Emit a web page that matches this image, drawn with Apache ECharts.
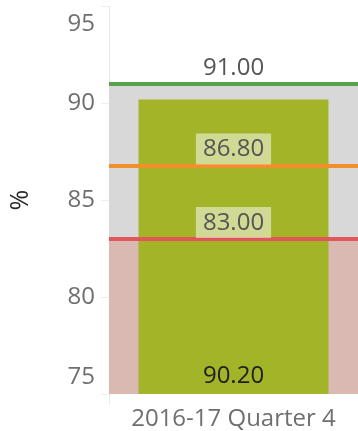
<!DOCTYPE html>
<html>
<head>
<meta charset="utf-8">
<script src="https://cdn.jsdelivr.net/npm/echarts@6/dist/echarts.min.js"></script>
<style>
  html, body { margin: 0; padding: 0; background: #fff; }
  #chart { width: 358px; height: 431px; }
</style>
</head>
<body>
<div id="chart"></div>
<script>
// Quarterly result against its reference thresholds
const categories = ['2016-17 Quarter 4'];
const actualValues = [90.20];
const targetValue = 91.00;
const midValue = 86.80;
const lowerValue = 83.00;
const axisMin = 75;
const axisMax = 95;
const axisStep = 5;

const FONT = '"Open Sans", sans-serif';
const labelGray = '#6f6f6f';

const chart = echarts.init(document.getElementById('chart'));

const thresholdLabel = (bg) => ({
  show: true,
  position: 'insideMiddleTop',
  distance: 1,
  formatter: (p) => p.value.toFixed(2),
  fontFamily: FONT,
  fontSize: 24,
  color: '#555555',
  backgroundColor: bg,
  padding: [4, 7, 3, 7]
});

chart.setOption({
  animation: false,
  grid: { left: 108, right: 0, top: 6.5, bottom: 37, containLabel: false },
  xAxis: {
    type: 'category',
    data: categories,
    boundaryGap: true,
    axisLine: { show: false },
    axisTick: { show: true, length: 10, lineStyle: { color: '#e8e8e8' } },
    axisLabel: { fontFamily: FONT, fontSize: 24, color: labelGray, margin: 13 }
  },
  yAxis: {
    type: 'value',
    min: axisMin,
    max: axisMax,
    interval: axisStep,
    name: '%',
    nameLocation: 'middle',
    nameGap: 76,
    nameRotate: 90,
    nameTextStyle: { fontFamily: FONT, fontSize: 25, color: '#2a2a2a' },
    axisLine: { show: true, lineStyle: { color: '#e8e8e8', width: 1 } },
    axisTick: { show: true, length: 8, lineStyle: { color: '#eeeeee' } },
    splitLine: { show: false },
    axisLabel: {
      margin: 14,
      fontFamily: FONT,
      fontSize: 24,
      color: labelGray,
      formatter: (v) => {
        if (v === axisMax) return '{top|' + v + '}';
        if (v === axisMin) return '{bot|' + v + '}';
        return String(v);
      },
      rich: {
        top: { fontFamily: FONT, fontSize: 24, color: labelGray, padding: [36, 0, 0, 0] },
        bot: { fontFamily: FONT, fontSize: 24, color: labelGray, padding: [0, 0, 34, 0] }
      }
    }
  },
  series: [
    {
      // shaded threshold bands behind the bar
      type: 'line',
      data: [],
      z: 1,
      silent: true,
      markArea: {
        silent: true,
        label: { show: false },
        data: [
          [{ yAxis: axisMin, itemStyle: { color: '#d9b9b1' } }, { yAxis: lowerValue }],
          [{ yAxis: lowerValue, itemStyle: { color: '#d8d8d8' } }, { yAxis: targetValue }]
        ]
      }
    },
    {
      type: 'bar',
      data: actualValues,
      z: 2,
      barWidth: 190,
      itemStyle: { color: '#a3b428' },
      label: {
        show: true,
        position: 'insideBottom',
        distance: 6,
        formatter: (p) => p.value.toFixed(2),
        fontFamily: FONT,
        fontSize: 24,
        color: '#1e1e1e'
      }
    },
    {
      // threshold reference lines
      type: 'line',
      data: [],
      z: 3,
      silent: true,
      markLine: {
        silent: true,
        symbol: 'none',
        data: [
          { yAxis: targetValue, lineStyle: { color: '#59a14f', width: 4, type: 'solid' }, label: thresholdLabel('transparent') },
          { yAxis: midValue, lineStyle: { color: '#f28e2b', width: 4, type: 'solid' }, label: thresholdLabel('rgba(255,255,255,0.5)') },
          { yAxis: lowerValue, lineStyle: { color: '#e15759', width: 4, type: 'solid' }, label: thresholdLabel('rgba(255,255,255,0.5)') }
        ]
      }
    }
  ]
});
</script>
</body>
</html>
